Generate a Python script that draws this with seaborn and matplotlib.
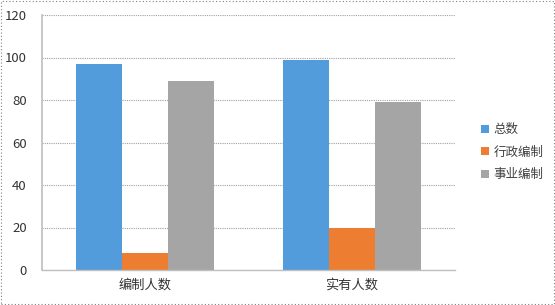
import matplotlib
matplotlib.use("Agg")
import matplotlib.pyplot as plt
import seaborn as sns
import pandas as pd
from matplotlib.patches import Rectangle, Patch
from matplotlib.ticker import FixedLocator

categories = ["编制人数", "实有人数"]
series = ["总数", "行政编制", "事业编制"]
total = [97, 99]
admin = [8, 20]
public = [89, 79]
yticks = [0, 20, 40, 60, 80, 100, 120]
colors = ["#539CDB", "#ED7D31", "#A5A5A5"]

rows = []
for s, vals in zip(series, [total, admin, public]):
    for c, v in zip(categories, vals):
        rows.append({"cat": c, "series": s, "value": v})
df = pd.DataFrame(rows)

sns.set_theme(style="white")
plt.rcParams['font.family'] = ['Noto Sans CJK SC', 'DejaVu Sans']

fig = plt.figure(figsize=(5.55, 3.05), dpi=100)
ax = fig.add_axes([42/555, 35/305, 413/555, 255/305])

sns.barplot(data=df, x="cat", y="value", hue="series", order=categories,
            hue_order=series, palette=colors, width=0.67, saturation=1,
            ax=ax, legend=False, linewidth=0)

ax.set_xlim(-0.5, 1.5)
ax.set_ylim(0, 120)
ax.set_yticks(yticks)
ax.set_xlabel("")
ax.set_ylabel("")
ax.grid(axis="y", color="#A0A0A0", linestyle=(0, (1, 1)), linewidth=0.8)
ax.set_axisbelow(True)
for sp in ["top", "right"]:
    ax.spines[sp].set_visible(False)
ax.spines["left"].set_color("#BFBFBF")
ax.spines["left"].set_linewidth(1.2)
ax.spines["bottom"].set_color("#BFBFBF")
ax.spines["bottom"].set_linewidth(1.0)
ax.tick_params(axis="y", length=0, pad=11, labelsize=9.5, labelcolor="#333333")
ax.tick_params(axis="x", length=0, pad=6, labelsize=9.5, labelcolor="#333333")
ax.xaxis.set_minor_locator(FixedLocator([0.5, 1.5]))
ax.tick_params(axis="x", which="minor", length=4, color="#BFBFBF", width=1)

handles = [Patch(facecolor=c, edgecolor="none", label=s) for c, s in zip(colors, series)]
fig.legend(handles=handles, loc="upper left", bbox_to_anchor=(470/555, 1 - 112/305),
           frameon=False, fontsize=9, handlelength=0.6, handleheight=0.6,
           handletextpad=0.4, labelspacing=0.75, labelcolor="#404040")

fig.patches.append(Rectangle((0.001, 0.002), 0.997, 0.995, transform=fig.transFigure,
                             fill=False, edgecolor="#808080", linestyle=(0, (1, 2)),
                             linewidth=0.8))

fig.savefig("out.png", dpi=100)
